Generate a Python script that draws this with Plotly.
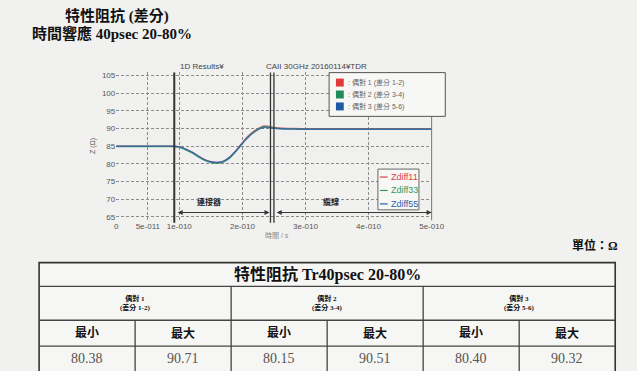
import plotly.graph_objects as go

# ---------------- data ----------------
time_ps = [0, 50, 90, 100, 110, 120, 130, 140, 150, 160, 170, 180, 190, 200,
           210, 220, 230, 235, 240, 250, 260, 280, 300, 350, 400, 450, 500]
zdiff11 = [85.0, 85.0, 85.0, 84.8, 84.2, 83.3, 82.2, 81.2, 80.6, 80.38, 80.7, 81.9,
           83.8, 86.0, 88.0, 89.5, 90.5, 90.71, 90.65, 90.35, 90.15, 90.0, 89.95,
           89.95, 89.95, 89.95, 89.95]
zdiff33 = [84.9, 84.9, 84.9, 84.7, 84.0, 83.1, 82.0, 81.0, 80.4, 80.15, 80.5, 81.7,
           83.6, 85.8, 87.8, 89.3, 90.3, 90.51, 90.45, 90.2, 90.0, 89.9, 89.85,
           89.85, 89.85, 89.85, 89.85]
zdiff55 = [85.0, 85.0, 85.0, 84.8, 84.2, 83.3, 82.2, 81.2, 80.6, 80.40, 80.75, 81.9,
           83.7, 85.8, 87.7, 89.1, 90.1, 90.32, 90.3, 90.1, 89.95, 89.85, 89.8,
           89.8, 89.8, 89.8, 89.8]

series_names = ["Zdiff11", "Zdiff33", "Zdiff55"]
series_colors = ["#d8404a", "#2e9a5e", "#2a62ad"]
legend_colors = ["#e23a36", "#1f8a5a", "#1f5aa6"]
pair_labels = [": 偶對 1 (差分 1-2)", ": 偶對 2 (差分 3-4)", ": 偶對 3 (差分 5-6)"]

x_tickvals_ps = [0, 50, 100, 200, 300, 400, 500]
x_ticktext = ["0", "5e-011", "1e-010", "2e-010", "3e-010", "4e-010", "5e-010"]
y_tickvals = [65, 70, 75, 80, 85, 90, 95, 100, 105]

# section markers (ps) and labels
marker_ps = [92, 244.5, 250]
connector_span_ps = [95, 243]
cable_span_ps = [252, 500]
section_labels = [("連接器", 147), ("纜線", 340)]

# table contents
table_title = "特性阻抗 Tr40psec 20-80%"
table_pairs = [("偶對 1", "(差分 1-2)"), ("偶對 2", "(差分 3-4)"), ("偶對 3", "(差分 5-6)")]
table_subheads = ["最小", "最大"]
table_values = ["80.38", "90.71", "80.15", "90.51", "80.40", "90.32"]

# ---------------- layout helpers ----------------
W, H = 637, 371
BG = "#f1f1ef"
SANS = "Liberation Sans, Noto Sans CJK TC, sans-serif"
SERIF = "Liberation Serif, Noto Sans CJK TC, serif"


def px(x):
    return x / W


def py(y):
    return 1 - y / H


def note(x, y, text, size, color, family=SANS, xanchor="center", **kw):
    """Text placed by page position in pixels."""
    return dict(x=px(x), y=py(y), xref="paper", yref="paper", text=text,
                xanchor=xanchor, yanchor="middle", showarrow=False,
                font=dict(family=family, size=size, color=color), **kw)


def prect(x0, y0, x1, y1, **kw):
    return dict(type="rect", xref="paper", yref="paper",
                x0=px(x0), x1=px(x1), y0=py(y1), y1=py(y0), **kw)


def pline(x0, y0, x1, y1, **kw):
    return dict(type="line", xref="paper", yref="paper",
                x0=px(x0), x1=px(x1), y0=py(y0), y1=py(y1), **kw)


sec = 1e-12
fig = go.Figure()

for name, ys, col in zip(series_names, [zdiff11, zdiff33, zdiff55], series_colors):
    fig.add_trace(go.Scatter(
        x=[t * sec for t in time_ps], y=ys, mode="lines", name=name,
        line=dict(color=col, width=1.4, shape="spline", smoothing=0.8),
        opacity=0.8, showlegend=False,
    ))

shapes = []
annotations = []

# section marker lines
for i, m in enumerate(marker_ps):
    shapes.append(dict(type="line", xref="x", yref="paper",
                       x0=m * sec, x1=m * sec, y0=py(223), y1=py(72),
                       line=dict(color="#333", width=2 if i == 0 else 1.3)))

# right frame line
shapes.append(pline(440, 220.5, 440, 71.5, line=dict(color="#777", width=1)))

# span arrows
for a, b in [connector_span_ps, cable_span_ps]:
    annotations.append(dict(x=b * sec, y=66.2, ax=a * sec, ay=66.2,
                            xref="x", yref="y", axref="x", ayref="y",
                            text="", showarrow=True, arrowhead=2, arrowsize=1,
                            arrowwidth=1, arrowside="end+start", arrowcolor="#333"))
for txt, pos in section_labels:
    annotations.append(dict(x=pos * sec, y=69.3, xref="x", yref="y", text=f"<b>{txt}</b>",
                            showarrow=False, font=dict(family=SANS, size=8, color="#222")))

# chart header texts
annotations += [
    note(205, 66, "1D Results¥", 8, "#444"),
    note(322, 66, "CAII 30GHz 20160114¥TDR", 8, "#444"),
    note(93, 146, "Z (Ω)", 7, "#555", textangle=-90),
    note(282, 236, "時間 / s", 7, "#888"),
]

# pair legend box (colour squares)
shapes.append(prect(335, 72, 454, 116, fillcolor="#f7f7f5", line=dict(color="#555", width=1)))
for i, (lab, col) in enumerate(zip(pair_labels, legend_colors)):
    yc = 82 + i * 12
    shapes.append(prect(342, yc - 4, 350, yc + 4, fillcolor=col, line=dict(width=0)))
    annotations.append(note(352, yc, lab, 7, "#666", xanchor="left"))

# trace name box
shapes.append(prect(385, 169, 427, 210, fillcolor="#f7f7f5", line=dict(color="#666", width=1)))
for i, (nm, col) in enumerate(zip(series_names, series_colors)):
    yc = 177 + i * 13.5
    shapes.append(pline(387, yc, 395, yc, line=dict(color=col, width=1.2)))
    annotations.append(note(396, yc, nm, 9, col, xanchor="left"))

# page headings
annotations += [
    note(62, 15, "<b>特性阻抗 (差分)</b>", 15, "#111", SERIF, xanchor="left"),
    note(29, 33, "<b>時間響應 40psec 20-80%</b>", 15, "#111", SERIF, xanchor="left"),
    note(633, 246, "<b>單位：Ω</b>", 12, "#111", SERIF, xanchor="right"),
]

# ---------------- table ----------------
tx0, tx1 = 38, 628
col_w = (tx1 - tx0) / 6
col_edges = [tx0 + i * col_w for i in range(7)]
row_edges = [263, 287, 321, 347, 385]
line_style = dict(color="#444", width=1.3)

shapes.append(prect(tx0, row_edges[0], tx1, row_edges[-1],
                    fillcolor="#f6f6f4", line=dict(color="#333", width=1.6)))
for r in row_edges[1:-1]:
    shapes.append(pline(tx0, r, tx1, r, line=line_style))
for i in range(1, 6):
    top = row_edges[1] if i % 2 == 0 else row_edges[2]
    shapes.append(pline(col_edges[i], row_edges[-1], col_edges[i], top, line=line_style))

annotations.append(note((tx0 + tx1) / 2, 275, f"<b>{table_title}</b>", 16, "#111", SERIF))
for g, (p1, p2) in enumerate(table_pairs):
    cx = (col_edges[2 * g] + col_edges[2 * g + 2]) / 2
    annotations.append(note(cx, 304, f"<b>{p1}<br>{p2}</b>", 7, "#111", SERIF))
for c in range(6):
    cx = (col_edges[c] + col_edges[c + 1]) / 2
    annotations.append(note(cx, 334, f"<b>{table_subheads[c % 2]}</b>", 12, "#111", SERIF))
    annotations.append(note(cx, 359, table_values[c], 14, "#555", SERIF))

fig.update_layout(
    width=W, height=H, margin=dict(l=0, r=0, t=0, b=0),
    paper_bgcolor=BG, plot_bgcolor=BG, showlegend=False,
    shapes=shapes, annotations=annotations,
    xaxis=dict(domain=[px(117), px(440)], range=[0, 500 * sec],
               tickvals=[t * sec for t in x_tickvals_ps], ticktext=x_ticktext,
               showgrid=True, gridcolor="#8d8d8d", griddash="3px,2px", gridwidth=1,
               zeroline=False, showline=False, ticks="",
               tickfont=dict(family=SANS, size=8, color="#555")),
    yaxis=dict(domain=[py(220.5), py(71.5)], range=[64, 106], tickvals=y_tickvals,
               showgrid=True, gridcolor="#8d8d8d", griddash="3px,2px", gridwidth=1,
               zeroline=False, showline=False, ticks="",
               tickfont=dict(family=SANS, size=8, color="#555")),
)

fig.write_html("out.html")
